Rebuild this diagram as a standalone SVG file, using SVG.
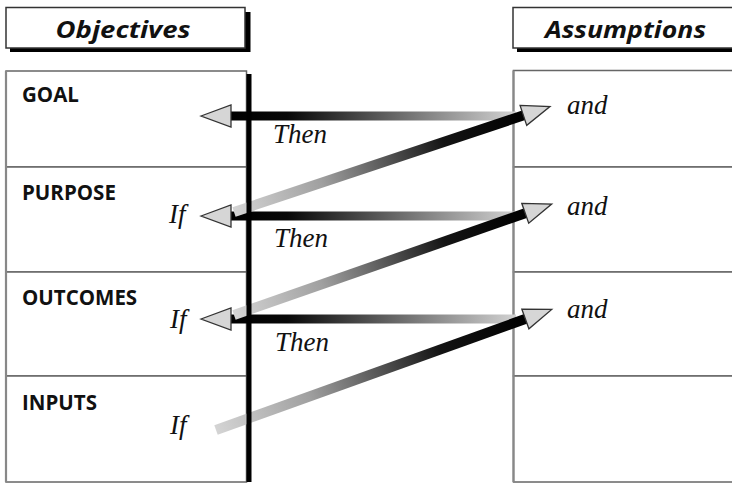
<svg xmlns="http://www.w3.org/2000/svg" width="732" height="485" viewBox="0 0 732 485">
<defs>
<linearGradient id="hgrad" x1="0" y1="0" x2="1" y2="0">
<stop offset="0" stop-color="#000"/>
<stop offset="0.2" stop-color="#080808"/>
<stop offset="1" stop-color="#d2d2d2"/>
</linearGradient>
<linearGradient id="dgrad" x1="0" y1="0" x2="1" y2="0">
<stop offset="0" stop-color="#d4d4d4"/>
<stop offset="0.3" stop-color="#a0a0a0"/>
<stop offset="0.72" stop-color="#141414"/>
<stop offset="1" stop-color="#000"/>
</linearGradient>
<style>
.hdr{fill:#fff;stroke:#333;stroke-width:1.5}
.shadow{fill:#000}
.cell{fill:#fff;stroke:#666;stroke-width:1.5}
.edge{fill:none;stroke:#888;stroke-width:2.2}
.htxt{font-family:"Open Sans","DejaVu Sans",sans-serif;font-weight:700;font-style:italic;font-size:23px;fill:#111;text-anchor:middle}
.lbl{font-family:"Open Sans","DejaVu Sans",sans-serif;font-weight:700;font-size:20.5px;fill:#111}
.it{font-family:"Liberation Serif","Times New Roman",serif;font-style:italic;font-size:27px;fill:#111}
.head{fill:#d6d6d6;stroke:#333;stroke-width:1.3;stroke-linejoin:miter}
</style>
</defs>
<rect width="732" height="485" fill="#fff"/>

<g id="header-objectives">
<rect class="shadow" x="10" y="12" width="240.5" height="40"/>
<rect class="hdr" x="6" y="7.5" width="239" height="40.5"/>
<text class="htxt" x="123" y="38" textLength="135" lengthAdjust="spacingAndGlyphs">Objectives</text>
</g>
<g id="header-assumptions">
<rect class="shadow" x="517" y="12" width="220" height="40"/>
<rect class="hdr" x="513" y="7.5" width="225" height="40.5"/>
<text class="htxt" x="625.5" y="37.5" textLength="161" lengthAdjust="spacingAndGlyphs">Assumptions</text>
</g>

<g id="goal">
<rect class="cell" x="6" y="71" width="240.5" height="96"/>
<text class="lbl" x="22" y="102">GOAL</text>
</g>
<g id="purpose">
<rect class="cell" x="6" y="167" width="240.5" height="105"/>
<text class="lbl" x="22" y="200">PURPOSE</text>
<text class="it" x="169" y="223">If</text>
</g>
<g id="outcomes">
<rect class="cell" x="6" y="272" width="240.5" height="104"/>
<text class="lbl" x="22" y="305">OUTCOMES</text>
<text class="it" x="170" y="328">If</text>
</g>
<g id="inputs">
<rect class="cell" x="6" y="376" width="240.5" height="106"/>
<text class="lbl" x="22" y="410">INPUTS</text>
<text class="it" x="170" y="434">If</text>
</g>
<line class="edge" x1="6" y1="71" x2="6" y2="482"/>

<g id="assumption-goal">
<rect class="cell" x="513.5" y="70.5" width="230" height="96.5"/>
<text class="it" x="567" y="114">and</text>
</g>
<g id="assumption-purpose">
<rect class="cell" x="513.5" y="167" width="230" height="105"/>
<text class="it" x="567" y="215">and</text>
</g>
<g id="assumption-outcomes">
<rect class="cell" x="513.5" y="272" width="230" height="104"/>
<text class="it" x="567" y="318">and</text>
</g>
<g id="assumption-inputs">
<rect class="cell" x="513.5" y="376" width="230" height="106"/>
</g>
<line class="edge" x1="513.5" y1="70.5" x2="513.5" y2="482"/>

<g id="connectors">
<g id="then-goal">
<rect x="230" y="111.5" width="286" height="9" fill="url(#hgrad)"/>
<polygon class="head" points="201,116 231,105 231,127"/>
</g>
<g id="then-purpose">
<rect x="230" y="211.5" width="286" height="9" fill="url(#hgrad)"/>
<polygon class="head" points="201,216 231,205 231,227"/>
</g>
<g id="then-outcomes">
<rect x="230" y="314.5" width="286" height="9" fill="url(#hgrad)"/>
<polygon class="head" points="201,319 231,308 231,330"/>
</g>
<g id="if-purpose-and-goal" transform="translate(234,212) rotate(-18.46)">
<rect x="0" y="-5" width="307" height="10" fill="url(#dgrad)"/>
<polygon class="head" points="305.1,-10.5 333.1,0 305.1,10.5"/>
</g>
<g id="if-outcomes-and-purpose" transform="translate(234,315) rotate(-19.26)">
<rect x="0" y="-5" width="310" height="10" fill="url(#dgrad)"/>
<polygon class="head" points="308.5,-10.5 336.5,0 308.5,10.5"/>
</g>
<g id="if-inputs-and-outcomes" transform="translate(216,430) rotate(-19.75)">
<rect x="0" y="-5" width="330" height="10" fill="url(#dgrad)"/>
<polygon class="head" points="328.7,-10.5 356.7,0 328.7,10.5"/>
</g>
<rect x="246.5" y="74" width="5" height="408" fill="#000"/>
</g>

<text class="it" x="273" y="143">Then</text>
<text class="it" x="274" y="247">Then</text>
<text class="it" x="275" y="351">Then</text>
</svg>
